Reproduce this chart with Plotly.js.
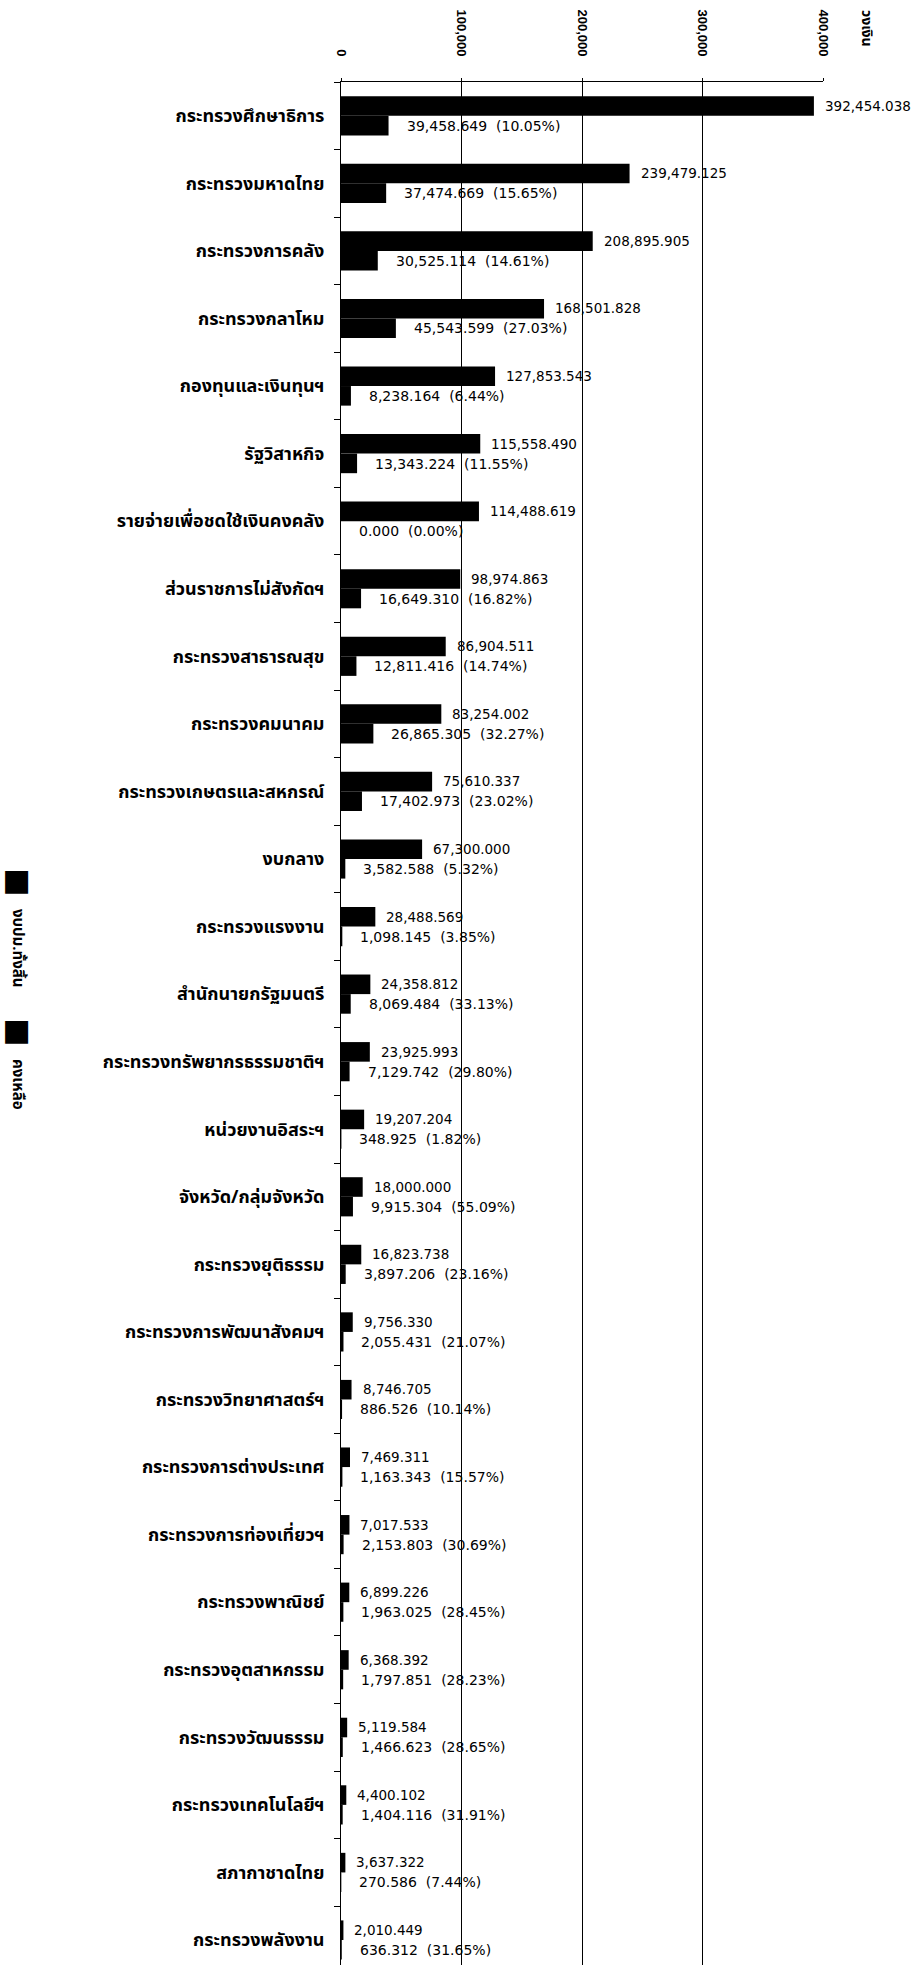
<!DOCTYPE html>
<html>
<head>
<meta charset="utf-8">
<script src="https://cdn.plot.ly/plotly-3.0.1.min.js"></script>
<style>
html,body{margin:0;padding:0;background:#fff;overflow:hidden;}
#chart{width:914px;height:1965px;}
</style>
</head>
<body>
<div id="chart"></div>
<script>
// ---------- data ----------
const categories = [
  "กระทรวงศึกษาธิการ",
  "กระทรวงมหาดไทย",
  "กระทรวงการคลัง",
  "กระทรวงกลาโหม",
  "กองทุนและเงินทุนฯ",
  "รัฐวิสาหกิจ",
  "รายจ่ายเพื่อชดใช้เงินคงคลัง",
  "ส่วนราชการไม่สังกัดฯ",
  "กระทรวงสาธารณสุข",
  "กระทรวงคมนาคม",
  "กระทรวงเกษตรและสหกรณ์",
  "งบกลาง",
  "กระทรวงแรงงาน",
  "สำนักนายกรัฐมนตรี",
  "กระทรวงทรัพยากรธรรมชาติฯ",
  "หน่วยงานอิสระฯ",
  "จังหวัด/กลุ่มจังหวัด",
  "กระทรวงยุติธรรม",
  "กระทรวงการพัฒนาสังคมฯ",
  "กระทรวงวิทยาศาสตร์ฯ",
  "กระทรวงการต่างประเทศ",
  "กระทรวงการท่องเที่ยวฯ",
  "กระทรวงพาณิชย์",
  "กระทรวงอุตสาหกรรม",
  "กระทรวงวัฒนธรรม",
  "กระทรวงเทคโนโลยีฯ",
  "สภากาชาดไทย",
  "กระทรวงพลังงาน"
];
const totalBudget = [392454.038, 239479.125, 208895.905, 168501.828, 127853.543, 115558.490,
  114488.619, 98974.863, 86904.511, 83254.002, 75610.337, 67300.000, 28488.569, 24358.812,
  23925.993, 19207.204, 18000.000, 16823.738, 9756.330, 8746.705, 7469.311, 7017.533,
  6899.226, 6368.392, 5119.584, 4400.102, 3637.322, 2010.449];
const remaining = [39458.649, 37474.669, 30525.114, 45543.599, 8238.164, 13343.224,
  0.000, 16649.310, 12811.416, 26865.305, 17402.973, 3582.588, 1098.145, 8069.484,
  7129.742, 348.925, 9915.304, 3897.206, 2055.431, 886.526, 1163.343, 2153.803,
  1963.025, 1797.851, 1466.623, 1404.116, 270.586, 636.312];
const remainingPct = ["10.05%", "15.65%", "14.61%", "27.03%", "6.44%", "11.55%", "0.00%",
  "16.82%", "14.74%", "32.27%", "23.02%", "5.32%", "3.85%", "33.13%", "29.80%", "1.82%",
  "55.09%", "23.16%", "21.07%", "10.14%", "15.57%", "30.69%", "28.45%", "28.23%",
  "28.65%", "31.91%", "7.44%", "31.65%"];
const xTickVals = [0, 100000, 200000, 300000, 400000];
const xTickText = ["0", "100,000", "200,000", "300,000", "400,000"];
const seriesNames = ["งบปม.ทั้งสิ้น", "คงเหลือ"];
const unitLabel = "วงเงิน";

// ---------- layout helpers ----------
const W = 914, H = 1965;
const M = {l: 341, r: 91, t: 82, b: 0};
const PW = W - M.l - M.r, PH = H - M.t - M.b;
const px2x = p => (p - M.l) / PW;
const py2y = p => (H - M.b - p) / PH;
const fmt = v => v.toLocaleString('en-US', {minimumFractionDigits: 3, maximumFractionDigits: 3});
const NB = "\u00a0";

const thaiFont = "Noto Sans Thai, Noto Sans, DejaVu Sans, sans-serif";
const numFont = "DejaVu Sans, Noto Sans Thai, sans-serif";

const traces = [
  {type: 'bar', orientation: 'h', name: seriesNames[0], y: categories, x: totalBudget,
   marker: {color: '#000000', line: {width: 0}}, showlegend: false, hoverinfo: 'x+y'},
  {type: 'bar', orientation: 'h', name: seriesNames[1], y: categories, x: remaining,
   marker: {color: '#000000', line: {width: 0}}, showlegend: false, hoverinfo: 'x+y'}
];

const annotations = [];
categories.forEach((c, i) => {
  annotations.push({x: totalBudget[i], y: c, xref: 'x', yref: 'y', text: fmt(totalBudget[i]),
    showarrow: false, xanchor: 'left', yanchor: 'middle', xshift: 9, yshift: 10,
    font: {family: numFont, size: 13.5, color: '#000'}});
  annotations.push({x: remaining[i], y: c, xref: 'x', yref: 'y',
    text: fmt(remaining[i]) + NB + NB + "(" + remainingPct[i] + ")",
    showarrow: false, xanchor: 'left', yanchor: 'middle', xshift: 16, yshift: -10,
    font: {family: numFont, size: 14, color: '#000'}});
});
// unit label (rotated)
annotations.push({xref: 'paper', yref: 'paper', x: px2x(867), y: py2y(28), text: unitLabel,
  showarrow: false, textangle: 90, xanchor: 'center', yanchor: 'middle',
  font: {family: thaiFont, size: 14, color: '#000', weight: 'bold'}});
// rotated legend
const legendItems = [
  {text: "■", px: 20, py: 882, font: {family: 'DejaVu Sans', size: 30, color: '#000'}},
  {text: seriesNames[0], px: 18, py: 948, font: {family: thaiFont, size: 15, color: '#000', weight: 'bold'}},
  {text: "■", px: 20, py: 1032, font: {family: 'DejaVu Sans', size: 30, color: '#000'}},
  {text: seriesNames[1], px: 18, py: 1084, font: {family: thaiFont, size: 15, color: '#000', weight: 'bold'}}
];
legendItems.forEach(it => annotations.push({xref: 'paper', yref: 'paper', x: px2x(it.px), y: py2y(it.py),
  text: it.text, showarrow: false, textangle: 90, xanchor: 'center', yanchor: 'middle', font: it.font}));

const layout = {
  width: W, height: H,
  margin: M,
  paper_bgcolor: '#fff', plot_bgcolor: '#fff',
  barmode: 'group', bargap: 0.42, bargroupgap: 0,
  showlegend: false,
  xaxis: {
    side: 'top', range: [0, 400000], tickvals: xTickVals, ticktext: xTickText,
    tickangle: 90, ticks: 'outside', ticklen: 3, tickcolor: '#000',
    showgrid: true, gridcolor: '#000', gridwidth: 1,
    showline: true, linecolor: '#000', linewidth: 1, zeroline: false,
    ticklabelstandoff: 17,
    tickfont: {family: "Liberation Sans, Arial, sans-serif", size: 13, color: '#000', weight: 'bold'}
  },
  yaxis: {
    type: 'category', range: [27.37, -0.5], tickson: 'boundaries',
    ticks: 'outside', ticklen: 6, tickcolor: '#000',
    showline: true, linecolor: '#000', linewidth: 1, showgrid: false, zeroline: false,
    ticklabelstandoff: 12,
    tickfont: {family: thaiFont, size: 18, color: '#000', weight: 'bold'}
  },
  annotations: annotations
};

Plotly.newPlot('chart', traces, layout, {staticPlot: true, displayModeBar: false});
</script>
</body>
</html>
